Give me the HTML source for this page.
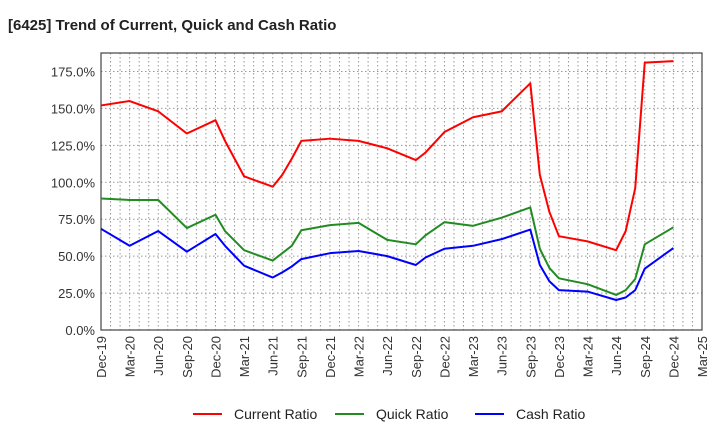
<!DOCTYPE html>
<html><head><meta charset="utf-8"><style>
body{margin:0;background:#fff;font-family:"Liberation Sans",Arial,sans-serif}
</style></head><body>
<svg id="chart" width="720" height="440" xmlns="http://www.w3.org/2000/svg" font-family="Liberation Sans, Arial, sans-serif">
<text x="8" y="30" font-size="15" font-weight="bold" fill="#222">[6425]  Trend of Current, Quick and Cash Ratio</text>
<g id="grid"></g><g id="axes"></g><g id="series"></g>
<g>
<line x1="193" y1="414" x2="222" y2="414" stroke="#f00" stroke-width="2"/>
<text x="234" y="419" font-size="14" fill="#222">Current Ratio</text>
<line x1="335" y1="414" x2="364" y2="414" stroke="#228b22" stroke-width="2"/>
<text x="376" y="419" font-size="14" fill="#222">Quick Ratio</text>
<line x1="475" y1="414" x2="504" y2="414" stroke="#00f" stroke-width="2"/>
<text x="516" y="419" font-size="14" fill="#222">Cash Ratio</text>
</g>
</svg>
<script>
const xLabels=["Dec-19","Mar-20","Jun-20","Sep-20","Dec-20","Mar-21","Jun-21","Sep-21","Dec-21","Mar-22","Jun-22","Sep-22","Dec-22","Mar-23","Jun-23","Sep-23","Dec-23","Mar-24","Jun-24","Sep-24","Dec-24","Mar-25"];
const yTicks=[0,25,50,75,100,125,150,175];
const months=[0,3,6,9,12,13,15,18,19,20,21,24,27,30,33,34,36,39,42,45,46,47,48,51,54,55,56,57,60];
const currentRatio=[152,155,148,133,142,128,104,97,105,116,128,129.5,128,123,115,120,134,144,148,167,105,80,63.5,60,54,67,96,181,182];
const quickRatio=[89,88,88,69,78,67,54,47,52,57,67.5,71,72.5,61,58,64,73,70.5,76,83,55,42,35,31,23.7,27,34.5,58,69.5];
const cashRatio=[68.5,57,67,53,65,57,43.5,35.5,39,43,48,52,53.5,50,44,49,55,57,61.5,68,44,33,27,26,20.3,22,27,41.5,55.5];
const L=101,R=702,T=53,B=330,NS="http://www.w3.org/2000/svg";
const xs=m=>L+(R-L)*m/63, ys=v=>B-(B-T)*v/187.5;
function mk(p,t,a){const e=document.createElementNS(NS,t);for(const k in a)e.setAttribute(k,a[k]);p.appendChild(e);return e;}
const grid=document.getElementById('grid'),axes=document.getElementById('axes'),ser=document.getElementById('series');
for(let m=1;m<63;m++){const g=mk(grid,'line',{x1:xs(m),x2:xs(m),y1:T,y2:B,stroke:'#999','stroke-dasharray':'1.5,2.5','stroke-width':1});

}
yTicks.forEach(v=>{if(v>0){const g=mk(grid,'line',{x1:L,x2:R,y1:ys(v),y2:ys(v),stroke:'#999','stroke-dasharray':'1.5,2.5'});

}
const t=mk(axes,'text',{x:L-6,y:ys(v)+5,'text-anchor':'end','font-size':13,fill:'#333'});t.textContent=v.toFixed(1)+'%';

});
xLabels.forEach((s,i)=>{const x=xs(i*3);const t=mk(axes,'text',{transform:`translate(${x+5},${B+6}) rotate(-90)`,'text-anchor':'end','font-size':13,fill:'#333'});t.textContent=s;

});
const fr=mk(axes,'rect',{x:L,y:T,width:R-L,height:B-T,fill:'none',stroke:'#444','stroke-width':1.2});


[[currentRatio,'#f00','current-ratio-line'],[quickRatio,'#228b22','quick-ratio-line'],[cashRatio,'#00f','cash-ratio-line']].forEach(([d,c,n])=>{
const p=mk(ser,'polyline',{points:d.map((v,i)=>xs(months[i])+','+ys(v)).join(' '),fill:'none',stroke:c,'stroke-width':2,'stroke-linejoin':'round'});

});
</script>
</body></html>
